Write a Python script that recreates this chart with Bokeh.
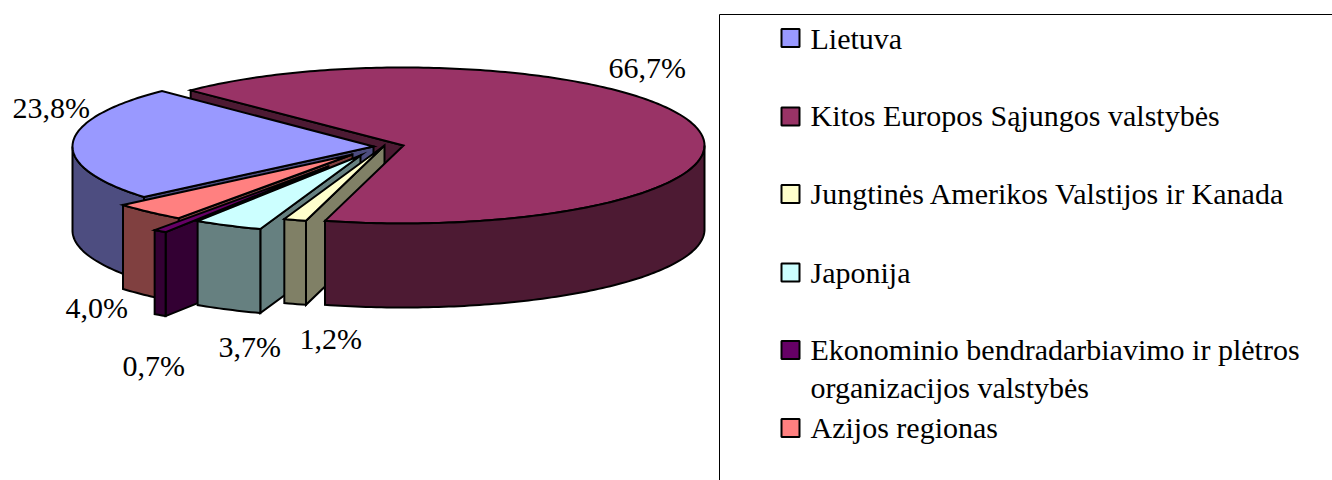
import math
from bokeh.plotting import figure
from bokeh.models import Range1d, ColumnDataSource
from bokeh.core.properties import value
from bokeh.embed import file_html
from bokeh.resources import INLINE

# --- data ---
categories = ["Lietuva", "Kitos Europos Sąjungos valstybės",
              "Jungtinės Amerikos Valstijos ir Kanada", "Japonija",
              "Ekonominio bendradarbiavimo ir plėtros\norganizacijos valstybės",
              "Azijos regionas"]
shares = [23.8, 66.7, 1.2, 3.7, 0.7, 4.0]

# --- style ---
top_colors = ["#9999FF", "#993366", "#FFFFCC", "#CCFFFF", "#660066", "#FF8080"]
wall_colors = ["#4D4D80", "#4D1A33", "#808066", "#668080", "#330033", "#804040"]
FONT = "Liberation Serif"
FS = "30px"

# --- layout (page pixels) ---
W, H = 1332, 480
OFF = 0
CX, CY, RX, RY, DEPTH = 388, 145, 301, 78, 84
KITOS_START = 135.0                       # degrees, slices run clockwise
explode_dx = [-15, 15, -4, -28, -60, -36]
explode_dy = [1, 0, 0, 10, 21, 9]
BASE_SHIFT = -11
label_pos = [(12, 118), (608, 78), (299, 349), (218, 357), (122, 376), (65, 318)]
legend_y = [37.5, 116, 193.5, 272, 349.5, 427.5]
legend_baselines = [[49], [126], [204], [283], [360, 398], [438]]

p = figure(width=W, height=H, output_backend="svg", toolbar_location=None,
           x_range=Range1d(OFF, OFF + W), y_range=Range1d(OFF + H, OFF),
           min_border=0, outline_line_color=None, background_fill_color="white")
p.xaxis.visible = False
p.yaxis.visible = False
p.grid.visible = False

# angles of every slice, clockwise, first slice is Lietuva
starts = {}
a = KITOS_START
for i in [1, 2, 3, 4, 5, 0]:
    starts[i] = (a, a - shares[i] * 3.6)
    a -= shares[i] * 3.6


def apex(i):
    return CX + explode_dx[i], CY + explode_dy[i]


def rim(i, ang):
    ax, ay = apex(i)
    r = math.radians(ang)
    return ax + RX * math.cos(r), ay - RY * math.sin(r)


def arc(i, a0, a1):
    n = max(2, int(abs(a0 - a1)) + 2)
    return [rim(i, a0 + (a1 - a0) * k / (n - 1)) for k in range(n)]


def start_wall(i):
    ax, ay = apex(i)
    rx, ry = rim(i, starts[i][0])
    return [(ax, ay), (rx, ry), (rx, ry + DEPTH), (ax, ay + DEPTH)], wall_colors[i]


def rim_wall(i):
    a0, a1 = starts[i]
    hi = min(a0 if a0 <= 0 else 0, 0)
    lo = max(a1, -180)
    if lo >= hi:
        return None
    pts = arc(i, hi, lo)
    return pts + [(x, y + DEPTH) for x, y in reversed(pts)], wall_colors[i]


def top(i):
    a0, a1 = starts[i]
    return [apex(i)] + arc(i, a0, a1), top_colors[i]


polys = [start_wall(1)]
for i in [0, 5, 4, 3, 2]:
    polys += [start_wall(i), rim_wall(i), top(i)]
polys += [top(1), rim_wall(1)]
polys = [q for q in polys if q is not None]

src = ColumnDataSource(dict(
    xs=[[pt[0] for pt in q[0]] for q in polys],
    ys=[[pt[1] for pt in q[0]] for q in polys],
    c=[q[1] for q in polys]))
p.patches("xs", "ys", source=src, fill_color="c", line_color="black",
          line_width=2, line_join="miter")

# percent labels
lab = [f"{v:.1f}%".replace(".", ",") for v in shares]
p.text([q[0] for q in label_pos], [q[1] + BASE_SHIFT for q in label_pos], text=lab,
       text_font=value(FONT), text_font_size=value(FS), text_color="black",
       text_align="left", text_baseline="alphabetic")

# legend frame
fx, fy = 719, 14
p.line([fx, fx, OFF + W], [OFF + H, fy, fy], line_color="black", line_width=1)

# legend swatches
p.rect([790] * 6, legend_y, width=18, height=18, fill_color=top_colors,
       line_color="black", line_width=2)

# legend text
tx, ty, tt = [], [], []
for name, bases in zip(categories, legend_baselines):
    for line, b in zip(name.split("\n"), bases):
        tx.append(810)
        ty.append(b + BASE_SHIFT)
        tt.append(line)
p.text(tx, ty, text=tt, text_font=value(FONT), text_font_size=value(FS),
       text_color="black", text_align="left", text_baseline="alphabetic")

open("out.html", "w").write(file_html(p, INLINE))
